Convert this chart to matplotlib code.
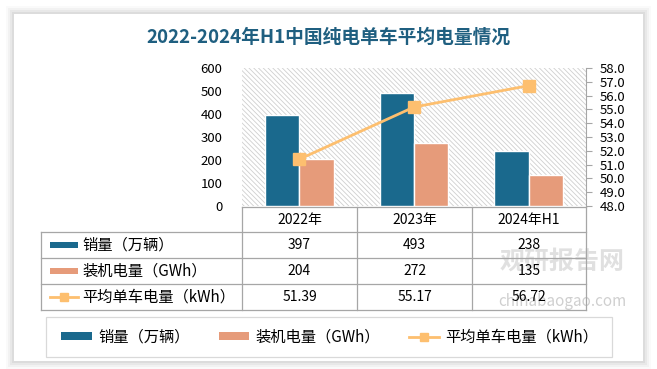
import matplotlib.pyplot as plt
from matplotlib.patches import Rectangle, Patch
from matplotlib.lines import Line2D

plt.rcParams['font.family'] = ['Noto Sans CJK SC', 'DejaVu Sans']
plt.rcParams['hatch.color'] = '#cfcfcf'
plt.rcParams['hatch.linewidth'] = 0.6

years = ["2022年", "2023年", "2024年H1"]
sales = [397, 493, 238]          # 销量（万辆）
installed = [204, 272, 135]      # 装机电量（GWh）
avg_kwh = [51.39, 55.17, 56.72]  # 平均单车电量（kWh）
series_names = ["销量（万辆）", "装机电量（GWh）", "平均单车电量（kWh）"]

BLUE = "#1a698d"
ORANGE = "#e69b7a"
LINE = "#fdbf6f"
GRID = "#a6a6a6"
TITLE = "#1f5f80"

W, H = 657, 369


def fx(x):
    return x / W


def fy(y):
    return 1 - y / H


fig = plt.figure(figsize=(W / 100, H / 100), dpi=100)
fig.patch.set_facecolor("white")

# card with soft shadow
for d, a in [(8, 0.02), (6, 0.03), (4, 0.04), (2, 0.05)]:
    fig.patches.append(Rectangle((fx(14 - d), fy(361 + d)), (629 + 2 * d) / W, (347 + 2 * d) / H,
                                 transform=fig.transFigure, facecolor="#000000", alpha=a,
                                 edgecolor="none", zorder=-3))
fig.patches.append(Rectangle((fx(14), fy(361)), 629 / W, 347 / H, transform=fig.transFigure,
                             facecolor="white", edgecolor="none", zorder=-2))

fig.text(fx(328), fy(37), "2022-2024年H1中国纯电单车平均电量情况", ha="center", va="center",
         fontsize=13.5, fontweight="bold", color=TITLE)

# plot area
left, right, top, bottom = 242, 586, 68, 206
ax = fig.add_axes([fx(left), fy(bottom), (right - left) / W, (bottom - top) / H])
ax.patch.set_facecolor("white")
ax.patch.set_hatch("\\\\\\\\\\\\\\")
ax.patch.set_edgecolor("#cfcfcf")
ax.patch.set_linewidth(0)

x = range(len(years))
bw = 0.3
ax.bar([i - bw / 2 for i in x], sales, width=bw, color=BLUE, edgecolor="white", linewidth=1, zorder=3)
ax.bar([i + bw / 2 for i in x], installed, width=bw, color=ORANGE, edgecolor="white", linewidth=1, zorder=3)
ax.set_xlim(-0.5, 2.5)
ax.set_ylim(0, 600)
ax.set_yticks(range(0, 601, 100))
ax.tick_params(axis="y", length=0, labelsize=9.5, pad=14, colors="#000000")
ax.set_xticks([])
for s in ax.spines.values():
    s.set_visible(False)

ax2 = ax.twinx()
ax2.plot(list(x), avg_kwh, color=LINE, lw=2, marker="s", markersize=8, zorder=4)
ax2.set_ylim(48, 58)
ax2.set_yticks([48 + i for i in range(11)])
ax2.set_yticklabels([f"{48 + i:.1f}" for i in range(11)])
ax2.tick_params(axis="y", length=4, color=GRID, labelsize=9.5, pad=6)
for s in ["top", "left", "bottom"]:
    ax2.spines[s].set_visible(False)
ax2.spines["right"].set_color(GRID)

# data table below the plot
cols = [242, 357, 472, 586]
rows = [207, 232, 258, 284, 310]
lc = dict(color=GRID, lw=0.9, transform=fig.transFigure)
for cx in cols:
    fig.add_artist(Line2D([fx(cx)] * 2, [fy(207), fy(310)], **lc))
fig.add_artist(Line2D([fx(41)] * 2, [fy(232), fy(310)], **lc))
fig.add_artist(Line2D([fx(242), fx(586)], [fy(207)] * 2, **lc))
for ry in rows[1:]:
    fig.add_artist(Line2D([fx(41), fx(586)], [fy(ry)] * 2, **lc))

centers = [(cols[i] + cols[i + 1]) / 2 for i in range(3)]
for cx, yr in zip(centers, years):
    fig.text(fx(cx), fy(220), yr, ha="center", va="center", fontsize=10)

table_rows = [
    [str(v) for v in sales],
    [str(v) for v in installed],
    [f"{v:.2f}" for v in avg_kwh],
]
for r, vals in enumerate(table_rows):
    yc = (rows[r + 1] + rows[r + 2]) / 2
    for cx, v in zip(centers, vals):
        fig.text(fx(cx), fy(yc), v, ha="center", va="center", fontsize=10, zorder=5)
    fig.text(fx(82), fy(yc), series_names[r], ha="left", va="center", fontsize=11)
    if r < 2:
        fig.patches.append(Rectangle((fx(50), fy(yc + 3)), 28 / W, 6 / H, transform=fig.transFigure,
                                     facecolor=[BLUE, ORANGE][r], edgecolor="none"))
    else:
        fig.add_artist(Line2D([fx(50), fx(78)], [fy(yc)] * 2, color=LINE, lw=2,
                              transform=fig.transFigure))
        fig.add_artist(Line2D([fx(64)], [fy(yc)], color=LINE, marker="s", markersize=6,
                              transform=fig.transFigure))

# watermark
fig.text(fx(562), fy(262), "观研报告网", ha="center", va="center", fontsize=18, fontweight="bold",
         color="#c8c8c8", alpha=0.55, zorder=1)
fig.text(fx(562), fy(302), "chinabaogao.com", ha="center", va="center", fontsize=11,
         color="#b0b0b0", alpha=0.6, zorder=1)

# bottom legend
fig.patches.append(Rectangle((fx(46), fy(357)), 566 / W, 40 / H, transform=fig.transFigure,
                             facecolor="white", edgecolor="#d9d9d9", lw=0.9))
handles = [
    Patch(facecolor=BLUE, edgecolor="none"),
    Patch(facecolor=ORANGE, edgecolor="none"),
    Line2D([0], [0], color=LINE, lw=2, marker="s", markersize=6),
]
fig.legend(handles, series_names, loc="center", bbox_to_anchor=(fx(330), fy(337)), ncol=3,
           frameon=False, fontsize=11, handlelength=2.0, handleheight=0.4, columnspacing=1.9,
           handletextpad=0.4)

fig.savefig("out.png", dpi=100)
